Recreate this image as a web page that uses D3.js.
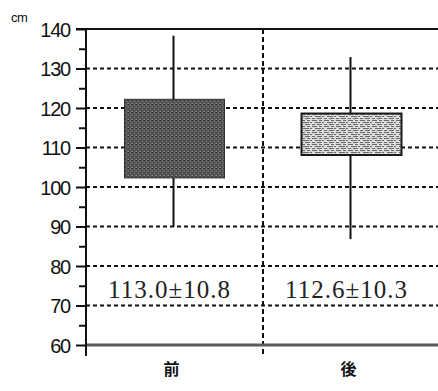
<!DOCTYPE html>
<html>
<head>
<meta charset="utf-8">
<script src="https://cdn.jsdelivr.net/npm/d3@7"></script>
<style>
  html, body { margin: 0; padding: 0; background: #fff; }
  svg { display: block; }
</style>
</head>
<body>
<svg id="chart" width="438" height="391"></svg>
<script>
// Height distribution before (前) and after (後)
const categories = ["前", "後"];
const whiskerLow  = [89.9, 86.8];
const boxLow      = [102.3, 108.1];
const boxHigh     = [122.2, 118.6];
const whiskerHigh = [138.3, 132.9];
const summaryText = ["113.0±10.8", "112.6±10.3"];
const majorTicks  = [60, 70, 80, 90, 100, 110, 120, 130, 140];
const minorTicks  = [65, 75, 85, 95, 105, 115, 125, 135];
const gridValues  = [70, 80, 90, 100, 110, 120, 130];
const unitLabel   = "cm";

(function draw() {
const svg = d3.select("#chart");
const plotLeft = 86, plotRight = 440, plotTop = 29, plotBottom = 345;

const y = d3.scaleLinear().domain([60, 140]).range([plotBottom, plotTop]);
const x = d3.scaleBand().domain(categories).range([plotLeft, plotRight]).padding(0);
const boxW = 100;

// fill textures
const defs = svg.append("defs");
const dark = defs.append("pattern").attr("id", "darkTex")
  .attr("patternUnits", "userSpaceOnUse").attr("width", 4).attr("height", 4);
dark.append("rect").attr("width", 4).attr("height", 4).attr("fill", "#555");
[[0,0,"#333"],[2,1,"#808080"],[1,2,"#3c3c3c"],[3,3,"#707070"],[3,0,"#444"],[0,3,"#888"]]
  .forEach(([px, py, c]) => dark.append("rect").attr("x", px).attr("y", py)
    .attr("width", 1).attr("height", 1).attr("fill", c));

const light = defs.append("pattern").attr("id", "lightTex")
  .attr("patternUnits", "userSpaceOnUse").attr("width", 12).attr("height", 6);
light.append("rect").attr("width", 12).attr("height", 6).attr("fill", "#d8d8d8");
[[0,0,5],[7,0,3],[3,2,6],[10,2,2],[0,4,3],[5,4,5]]
  .forEach(([px, py, w]) => light.append("rect").attr("x", px).attr("y", py)
    .attr("width", w).attr("height", 1).attr("fill", "#6a6a6a"));
[[6,1],[1,3],[9,5]].forEach(([px, py]) => light.append("rect").attr("x", px).attr("y", py)
    .attr("width", 1).attr("height", 1).attr("fill", "#fff"));

// dotted horizontal grid
svg.append("g").selectAll("line").data(gridValues).join("line")
  .attr("x1", plotLeft).attr("x2", plotRight)
  .attr("y1", d => y(d)).attr("y2", d => y(d))
  .attr("stroke", "#111").attr("stroke-width", 2)
  .attr("stroke-dasharray", "4,3");

// dashed divider between groups
svg.append("line")
  .attr("x1", x("後")).attr("x2", x("後"))
  .attr("y1", plotTop).attr("y2", plotBottom + 12)
  .attr("stroke", "#111").attr("stroke-width", 2)
  .attr("stroke-dasharray", "5,3");

// top frame line
svg.append("line")
  .attr("x1", plotLeft - 10).attr("x2", 438)
  .attr("y1", y(140)).attr("y2", y(140))
  .attr("stroke", "#111").attr("stroke-width", 2);

// baseline
svg.append("line")
  .attr("x1", plotLeft).attr("x2", 438)
  .attr("y1", y(60)).attr("y2", y(60))
  .attr("stroke", "#5a5a5a").attr("stroke-width", 3);

// whiskers
const groups = svg.append("g").selectAll("g").data(categories).join("g");
groups.append("line")
  .attr("x1", (d) => x(d) + x.bandwidth() / 2 - 1)
  .attr("x2", (d) => x(d) + x.bandwidth() / 2 - 1)
  .attr("y1", (d, i) => y(whiskerLow[i]))
  .attr("y2", (d, i) => y(whiskerHigh[i]))
  .attr("stroke", "#111").attr("stroke-width", 2);

// boxes
groups.append("rect")
  .attr("x", (d) => x(d) + x.bandwidth() / 2 - boxW / 2)
  .attr("width", boxW)
  .attr("y", (d, i) => y(boxHigh[i]))
  .attr("height", (d, i) => y(boxLow[i]) - y(boxHigh[i]))
  .attr("fill", (d, i) => i === 0 ? "url(#darkTex)" : "url(#lightTex)")
  .attr("stroke", (d, i) => i === 0 ? "#333" : "#1a1a1a")
  .attr("stroke-width", (d, i) => i === 0 ? 1 : 2);

// summary labels
groups.append("text")
  .attr("x", (d) => x(d) + x.bandwidth() / 2 - 5)
  .attr("y", 298)
  .attr("text-anchor", "middle")
  .attr("font-family", "Liberation Serif, DejaVu Serif, serif")
  .attr("font-size", 25)
  .attr("letter-spacing", 1)
  .attr("fill", "#222")
  .text((d, i) => summaryText[i]);

// y axis
const yAxis = svg.append("g").attr("transform", `translate(${plotLeft},0)`)
  .call(d3.axisLeft(y).tickValues(majorTicks).tickSize(10).tickPadding(6).tickFormat(d3.format("d")));
yAxis.select(".domain").remove();
yAxis.selectAll(".tick line").attr("stroke", "#111").attr("stroke-width", 2);
yAxis.selectAll(".tick text")
  .attr("font-family", "Liberation Sans, Arial, sans-serif")
  .attr("font-size", 20).attr("letter-spacing", -1.2)
  .attr("fill", "#111").attr("dy", "0.36em");

const yMinor = svg.append("g").attr("transform", `translate(${plotLeft},0)`)
  .call(d3.axisLeft(y).tickValues(minorTicks).tickSize(7).tickFormat(""));
yMinor.select(".domain").remove();
yMinor.selectAll(".tick line").attr("stroke", "#111").attr("stroke-width", 2);

svg.append("line")
  .attr("x1", plotLeft).attr("x2", plotLeft)
  .attr("y1", plotTop - 1).attr("y2", plotBottom + 11)
  .attr("stroke", "#111").attr("stroke-width", 2);

// category labels
svg.append("g").selectAll("text").data(categories).join("text")
  .attr("x", d => x(d) + x.bandwidth() / 2 - 3)
  .attr("y", 375)
  .attr("text-anchor", "middle")
  .attr("font-family", "Noto Sans CJK JP, sans-serif")
  .attr("font-weight", "bold")
  .attr("font-size", 16)
  .attr("fill", "#111")
  .text(d => d);

// unit label
svg.append("text")
  .attr("x", 11).attr("y", 22)
  .attr("font-family", "Liberation Sans, sans-serif")
  .attr("font-size", 13)
  .attr("letter-spacing", -0.5)
  .attr("fill", "#111")
  .text(unitLabel);
})();
</script>
</body>
</html>
